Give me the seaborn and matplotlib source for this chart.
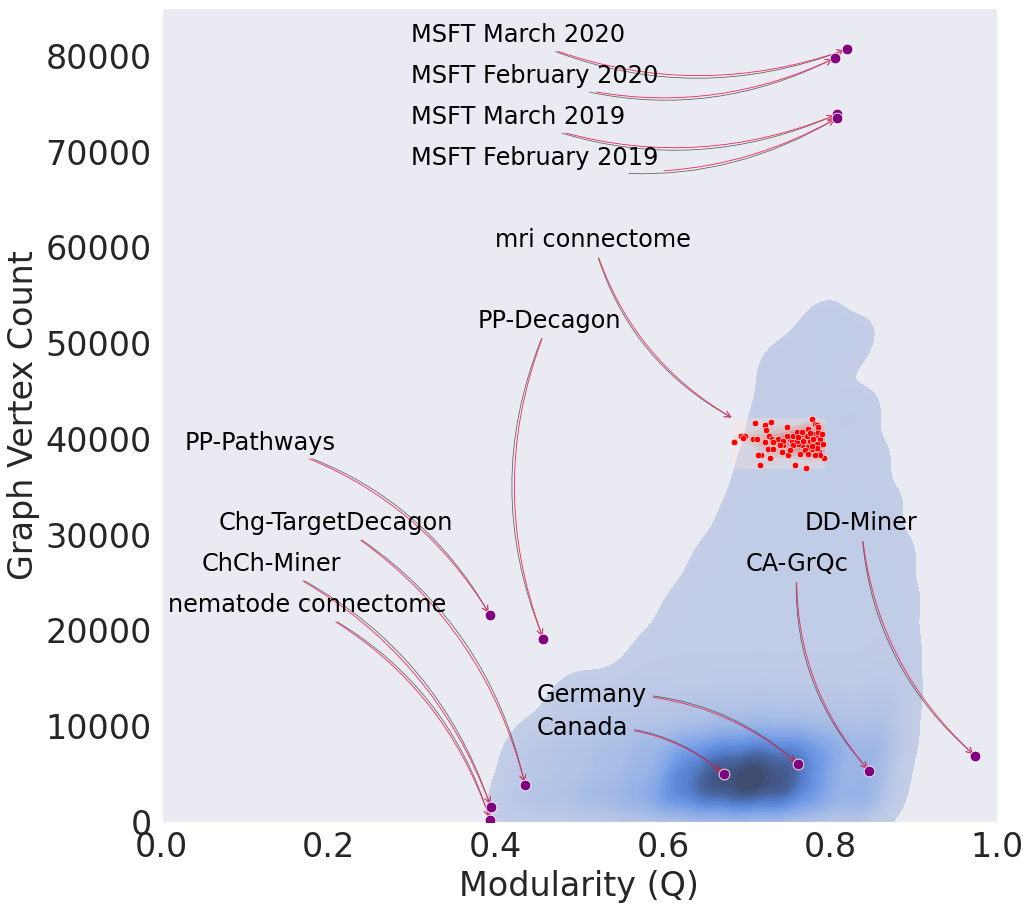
import numpy as np
import pandas as pd
import seaborn as sns
import matplotlib.pyplot as plt

# anchor points of the shaded graph distribution (modularity, vertex count, weight)
dens_q = [0.425, 0.47, 0.515, 0.56, 0.605, 0.65, 0.695, 0.74, 0.785, 0.83, 0.855,
          0.6275, 0.6725, 0.7175, 0.7625,
          0.44, 0.485, 0.53, 0.575, 0.62, 0.665, 0.71, 0.755, 0.80, 0.845, 0.868,
          0.49, 0.535, 0.58, 0.625, 0.67, 0.715, 0.76, 0.805, 0.85, 0.878,
          0.58, 0.625, 0.67, 0.715, 0.76, 0.805, 0.85, 0.885,
          0.62, 0.665, 0.71, 0.755, 0.80, 0.845, 0.885,
          0.655, 0.70, 0.745, 0.79, 0.835, 0.88,
          0.69, 0.735, 0.78, 0.825, 0.865,
          0.71, 0.755, 0.80, 0.85,
          0.725, 0.77, 0.815, 0.84,
          0.737, 0.789, 0.831, 0.789]
dens_n = [2500] * 11 + [5000] * 4 + [7500] * 11 + [12500] * 10 + [17500] * 8 + \
         [22500] * 7 + [27500] * 6 + [32500] * 5 + [37500] * 4 + [42500] * 4 + \
         [47800, 51800, 50200, 47000]
dens_w = [1.2, 1.5, 1.9, 2.4, 3.0, 3.6, 3.9, 3.8, 3.0, 2.0, 1.3,
          1.5, 2.0, 2.0, 1.5,
          1.0, 1.3, 1.6, 2.0, 2.5, 3.0, 3.3, 3.2, 2.6, 1.7, 1.1,
          0.8, 0.9, 1.0, 1.1, 1.2, 1.25, 1.2, 1.1, 1.0, 0.8,
          0.5, 0.5, 0.5, 0.5, 0.5, 0.5, 0.5, 0.5,
          0.5, 0.5, 0.5, 0.5, 0.5, 0.5, 0.5,
          0.5, 0.5, 0.5, 0.5, 0.5, 0.5,
          0.5, 0.5, 0.5, 0.5, 0.5,
          0.5, 0.5, 0.5, 0.5,
          0.5, 0.45, 0.45, 0.4,
          0.55, 0.65, 0.55, 0.45]

# mri connectome samples
mri_q = [0.685, 0.694, 0.698, 0.696, 0.710, 0.708, 0.713, 0.722, 0.724, 0.729,
         0.727, 0.730, 0.734, 0.738, 0.722, 0.726, 0.732, 0.728, 0.718, 0.714,
         0.716, 0.742, 0.744, 0.748, 0.752, 0.754, 0.750, 0.758, 0.764, 0.771,
         0.756, 0.760, 0.764, 0.768, 0.770, 0.772, 0.766, 0.762, 0.774, 0.778,
         0.782, 0.780, 0.784, 0.786, 0.788, 0.790, 0.792, 0.787, 0.782, 0.778,
         0.774, 0.770, 0.776, 0.780, 0.784, 0.768, 0.760, 0.756, 0.752, 0.793,
         0.784, 0.786, 0.774, 0.788, 0.782, 0.748, 0.744, 0.740, 0.732, 0.772,
         0.776, 0.780, 0.766, 0.790, 0.762, 0.784, 0.778]
mri_n = [39660, 40350, 40280, 40110, 41680, 39940, 40010, 41400, 40880, 41810,
         40280, 40010, 39830, 40010, 39660, 38960, 38960, 37990, 38270, 38340,
         37230, 38620, 39310, 41220, 40010, 39660, 38270, 37300, 38440, 36950,
         40350, 40700, 40180, 40530, 40010, 39660, 39310, 39480, 41050, 42090,
         41570, 40530, 40180, 40700, 40010, 39310, 39480, 38620, 38960, 38960,
         39140, 38790, 39830, 39480, 39480, 39830, 39830, 39310, 38790, 37990,
         41400, 41220, 38440, 38270, 38270, 40350, 39830, 39310, 39660, 40300,
         40600, 40000, 40700, 40500, 40200, 39000, 39300]

# named graphs
names = ["MSFT March 2020", "MSFT February 2020", "MSFT March 2019",
         "MSFT February 2019", "PP-Decagon", "PP-Pathways",
         "Chg-TargetDecagon", "ChCh-Miner", "nematode connectome",
         "Germany", "Canada", "CA-GrQc", "DD-Miner"]
name_q = [0.820, 0.806, 0.808, 0.809, 0.457, 0.393,
          0.435, 0.394, 0.393, 0.762, 0.673, 0.847, 0.974]
name_n = [80700, 79800, 73900, 73550, 19100, 21600,
          3860, 1560, 210, 6050, 5000, 5320, 6880]

# where the labels sit
label_q = [0.298, 0.298, 0.298, 0.298, 0.378, 0.028,
           0.068, 0.048, 0.007, 0.449, 0.449, 0.699, 0.770]
label_n = [82170, 77890, 73620, 69340, 52350, 39620,
           31180, 26900, 22630, 13240, 9800, 26900, 31180]
bend = [0.2, 0.2, 0.2, 0.2, 0.2, -0.2, -0.2, -0.2, -0.2, -0.2, -0.2, 0.2, 0.2]

sns.set_style("dark")
plt.rcParams['font.family'] = ['DejaVu Sans']

fig = plt.figure(figsize=(10.3, 9.1), dpi=100)
ax = fig.add_axes([0.157, 0.097, 0.811, 0.894])

dens = pd.DataFrame({"q": dens_q, "n": dens_n, "w": dens_w})
cmap = sns.blend_palette(['#c3cde6', '#bfcae6', '#b3c4e6', '#a5bbe6',
                          '#93b0e6', '#7ea3e6', '#6893e2', '#557fcc',
                          '#47619a', '#3c4868'], as_cmap=True)
sns.kdeplot(data=dens, x="q", y="n", weights="w", fill=True, cmap=cmap,
            levels=60, thresh=0.03, bw_method=0.2, ax=ax)

mri = pd.DataFrame({"q": mri_q, "n": mri_n})
sns.kdeplot(data=mri, x="q", y="n", fill=True, cmap="Reds", thresh=0,
            cut=0, levels=8, alpha=0.3, ax=ax)
sns.scatterplot(data=mri, x="q", y="n", color="red", s=22,
                edgecolor="white", linewidth=0.4, ax=ax, zorder=5)

graphs = pd.DataFrame({"name": names, "q": name_q, "n": name_n})
sns.scatterplot(data=graphs, x="q", y="n", color="purple", s=60,
                edgecolor="white", linewidth=0.6, ax=ax, zorder=6)


def label(text, xy, xytext, rad):
    # dark and red arrow drawn together, text only once
    ax.annotate(text, xy=xy, xytext=xytext, fontsize=17.3,
                color=(0, 0, 0, 0), va="center", ha="left",
                arrowprops=dict(arrowstyle="->", color="#3a3a3a", lw=0.55,
                                alpha=0.8, mutation_scale=11,
                                connectionstyle="arc3,rad=%.3f" % (rad * 1.08)))
    ax.annotate(text, xy=xy, xytext=xytext, fontsize=17.3,
                color="black", va="center", ha="left",
                arrowprops=dict(arrowstyle="->", color="#f0245c", lw=0.6,
                                mutation_scale=11,
                                connectionstyle="arc3,rad=%.3f" % rad))


for i, nm in enumerate(names):
    label(nm, (name_q[i], name_n[i]), (label_q[i], label_n[i]), bend[i])

# mri connectome points to the corner of its cloud
label("mri connectome", (min(mri_q), max(mri_n)), (0.399, 60790), 0.2)

ax.set_xlim(0, 1.0)
ax.set_ylim(0, 85000)
ax.set_xticks(np.arange(0, 1.01, 0.2))
ax.set_xticklabels(["0.0", "0.2", "0.4", "0.6", "0.8", "1.0"])
ax.set_yticks(np.arange(0, 80001, 10000))
ax.tick_params(labelsize=24)
ax.set_xlabel("Modularity (Q)", fontsize=24)
ax.set_ylabel("Graph Vertex Count", fontsize=24)

fig.savefig("out.png", dpi=100)
